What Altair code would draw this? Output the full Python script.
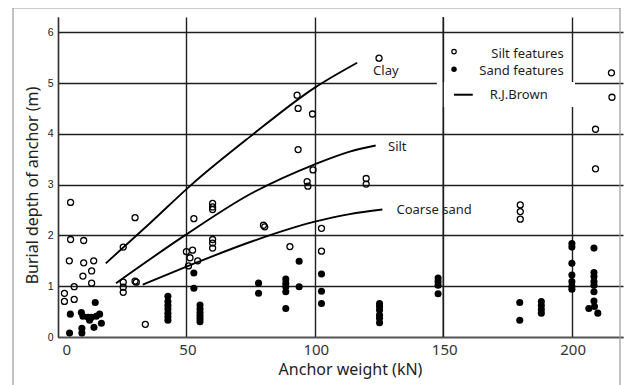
import altair as alt
import pandas as pd

# ---- axes ----
x_ticks = [0, 50, 100, 150, 200]
y_ticks = [0, 1, 2, 3, 4, 5, 6]

# ---- Silt features (open circles) ----
silt_x = [2.5, 2.5, 4.4, 4.9, 4.9, 6.3, 6.3, 9.7, 10, 10, 13.1, 13.1, 13.9,
          25.4, 25.4, 25.4, 25.4, 30, 30, 30.5, 34, 50, 50.8, 51.4, 52.4, 52.9, 54.4,
          60.2, 60.2, 60.2, 60.2, 60.2, 60.2, 80, 80.5, 90.3, 93.1, 93.5, 93.5,
          97, 97.3, 99.1, 99.3, 102.6, 102.6, 120, 120, 125, 180, 180, 180,
          209.3, 209.3, 215.5, 215.7]
silt_y = [0.86, 0.70, 1.50, 2.65, 1.92, 0.99, 0.74, 1.20, 1.90, 1.46, 1.30, 1.06, 1.50,
          1.77, 1.08, 0.98, 0.88, 2.35, 1.10, 1.08, 0.25, 1.68, 1.40, 1.56, 1.71, 2.33, 1.50,
          2.63, 2.56, 2.51, 1.92, 1.85, 1.75, 2.20, 2.17, 1.78, 4.76, 4.50, 3.69,
          3.06, 2.97, 4.39, 3.29, 2.14, 1.69, 3.12, 3.01, 5.49, 2.60, 2.47, 2.32,
          4.09, 3.31, 5.20, 4.72]

# ---- Sand features (filled circles) ----
sand_x = [4.8, 4.5, 9.1, 9.7, 9.3, 9.3, 11.7, 13, 12.3, 14.5, 14, 14.9, 16.2, 16.9,
          42.8, 42.8, 42.8, 42.8, 42.8, 42.8, 42.8, 52.9, 52.9,
          55.3, 55.3, 55.3, 55.3, 55.3, 55.3, 78.1, 78.1,
          88.7, 88.7, 88.7, 88.7, 88.7, 93.9, 93.9, 102.6, 102.6, 102.6,
          125.2, 125.2, 125.2, 125.2, 125.2, 125.2, 148, 148, 148, 148,
          179.8, 179.8, 188.2, 188.2, 188.2, 188.2,
          200.1, 200.1, 200.1, 200.1, 200.1, 200.1, 200.1,
          208.7, 208.7, 208.7, 208.7, 208.7, 208.7, 208.7, 206.7, 208.9, 210.2]
sand_y = [0.45, 0.08, 0.48, 0.41, 0.17, 0.08, 0.39, 0.39, 0.33, 0.68, 0.19, 0.41, 0.45, 0.27,
          0.80, 0.70, 0.62, 0.55, 0.47, 0.40, 0.33, 1.26, 0.96,
          0.63, 0.55, 0.48, 0.42, 0.36, 0.30, 1.06, 0.86,
          1.14, 1.06, 0.99, 0.89, 0.56, 1.49, 0.99, 1.24, 0.90, 0.66,
          0.66, 0.60, 0.53, 0.43, 0.37, 0.28, 1.16, 1.09, 1.02, 0.85,
          0.68, 0.33, 0.70, 0.62, 0.54, 0.47,
          1.84, 1.77, 1.45, 1.22, 1.09, 1.00, 0.94,
          1.75, 1.27, 1.19, 1.09, 1.02, 0.89, 0.71, 0.56, 0.60, 0.47]

# ---- R.J.Brown curves ----
clay_x = [18.6, 35.8, 52, 74.7, 100, 116.5]
clay_y = [1.45, 2.24, 3.0, 3.94, 4.91, 5.40]
siltc_x = [22.6, 49.4, 74.7, 100, 113.6, 123.7]
siltc_y = [1.06, 2.0, 2.81, 3.40, 3.65, 3.77]
coarse_x = [33, 49.8, 75.4, 100, 113.6, 126.3]
coarse_y = [1.03, 1.38, 1.88, 2.27, 2.42, 2.51]

curve_names = ["Clay", "Silt", "Coarse sand"]
curve_label_x = [122.7, 128.5, 131.8]
curve_label_y = [5.24, 3.75, 2.51]

# ---- legend ----
legend_texts = ["Silt features", "Sand features", "R.J.Brown"]
legend_sym_x = [154.2, 154.2]
legend_sym_y = [5.62, 5.27]
legend_line_x = [154.2, 161.5]
legend_line_y = [4.77, 4.77]
legend_text_x = [196.9, 196.9, 168.1]
legend_text_y = [5.58, 5.24, 4.76]
legend_box_x = [147.5, 201.3]
legend_box_y = [4.53, 5.02]

FONT = "Noto Sans"
INK = "#1e1e1e"
GRID = "#1f1f1f"

X = alt.X("x:Q", scale=alt.Scale(domain=[0, 220], nice=False, zero=False),
          axis=alt.Axis(values=x_ticks, grid=True, gridColor=GRID, gridWidth=1.4,
                        domainColor="#555", domainWidth=1.3, ticks=False,
                        labelFont=FONT, labelFontSize=15, labelColor="#333",
                        labelPadding=5,
                        labelOffset={"condition": {"test": "datum.value == 0", "value": 4}, "value": 1},
                        title="Anchor weight (kN)", titleFont=FONT, titleFontSize=16,
                        titleFontWeight="normal", titleColor="#222",
                        titleX=292, titleY=32, titleBaseline="middle", titleAlign="center"))
Y = alt.Y("y:Q", scale=alt.Scale(domain=[0, 6.3], nice=False, zero=False),
          axis=alt.Axis(values=y_ticks, grid=True, gridColor=GRID, gridWidth=1.4,
                        domainColor="#333", domainWidth=1.3, ticks=False,
                        labelFont="Liberation Sans", labelFontSize=10.5, labelColor="#222",
                        labelPadding=5,
                        title="Burial depth of anchor (m)", titleFont=FONT, titleFontSize=16,
                        titleFontWeight="normal", titleColor="#222", titleAngle=270,
                        titleX=-26, titleY=168, titleBaseline="middle", titleAlign="center"))

silt_df = pd.DataFrame({"x": silt_x, "y": silt_y})
sand_df = pd.DataFrame({"x": sand_x, "y": sand_y})

rows = []
for name, xs, ys in [("Clay", clay_x, clay_y), ("Silt", siltc_x, siltc_y),
                     ("Coarse sand", coarse_x, coarse_y)]:
    for i, (a, b) in enumerate(zip(xs, ys)):
        rows.append({"curve": name, "x": a, "y": b, "o": i})
curves_df = pd.DataFrame(rows)

labels_df = pd.DataFrame({"x": curve_label_x, "y": curve_label_y, "t": curve_names})

box_df = pd.DataFrame({"x": [legend_box_x[0]], "x2": [legend_box_x[1]],
                       "y": [legend_box_y[0]], "y2": [legend_box_y[1]]})
vline_df = pd.DataFrame({"x": [x_ticks[3]]})

box = alt.Chart(box_df).mark_rect(color="white").encode(
    x=X, x2="x2:Q", y=Y, y2="y2:Q")
vline = alt.Chart(vline_df).mark_rule(color=GRID, strokeWidth=1.4).encode(x=X)

curves = alt.Chart(curves_df).mark_line(color="black", strokeWidth=1.9,
                                        interpolate="monotone").encode(
    x=X, y=Y, detail="curve:N", order="o:Q")

open_pts = alt.Chart(silt_df).mark_point(shape="circle", filled=False, color="black",
                                         size=36, strokeWidth=1.3, opacity=1).encode(x=X, y=Y)
filled_pts = alt.Chart(sand_df).mark_circle(color="black", size=50, opacity=1).encode(x=X, y=Y)

curve_labels = alt.Chart(labels_df).mark_text(align="left", baseline="middle", font=FONT,
                                              fontSize=13, color=INK).encode(
    x=X, y=Y, text="t:N")

leg_open = alt.Chart(pd.DataFrame({"x": [legend_sym_x[0]], "y": [legend_sym_y[0]]})).mark_point(
    shape="circle", filled=False, color="black", size=20, strokeWidth=1.2, opacity=1).encode(x=X, y=Y)
leg_fill = alt.Chart(pd.DataFrame({"x": [legend_sym_x[1]], "y": [legend_sym_y[1]]})).mark_circle(
    color="black", size=30, opacity=1).encode(x=X, y=Y)
leg_line = alt.Chart(pd.DataFrame({"x": legend_line_x, "y": legend_line_y})).mark_line(
    color="black", strokeWidth=2).encode(x=X, y=Y)
leg_text_df = pd.DataFrame({"x": legend_text_x, "y": legend_text_y, "t": legend_texts})
leg_text_r = alt.Chart(leg_text_df.iloc[:2]).mark_text(
    align="right", baseline="middle", font=FONT, fontSize=13, color=INK).encode(x=X, y=Y, text="t:N")
leg_text_l = alt.Chart(leg_text_df.iloc[2:]).mark_text(
    align="left", baseline="middle", font=FONT, fontSize=13, color=INK).encode(x=X, y=Y, text="t:N")

border = alt.Chart(pd.DataFrame({"a": [0]})).mark_rect(
    fill="transparent", stroke="#9a9a9a", strokeWidth=1.2).encode(
    x=alt.value(-45), x2=alt.value(562), y=alt.value(-9), y2=alt.value(400))

chart = alt.layer(
    box, vline, curves, open_pts, filled_pts, curve_labels,
    leg_open, leg_fill, leg_line, leg_text_r, leg_text_l, border
).properties(
    width=565, height=320,
    autosize=alt.AutoSizeParams(type="none"),
    padding={"left": 50, "top": 9, "right": 6, "bottom": 48},
    background="white",
).configure_view(stroke="transparent")

chart.save("out.html", embed_options={"renderer": "svg", "actions": False})
